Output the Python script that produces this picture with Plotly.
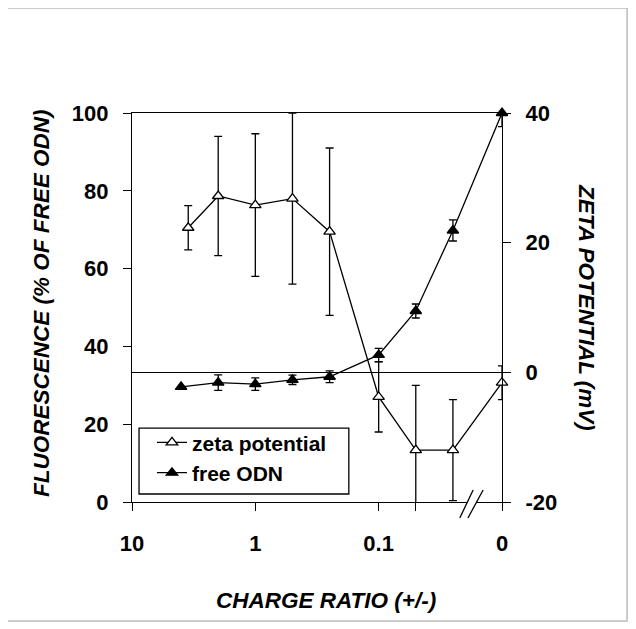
import plotly.graph_objects as go

# ---- data ----
zeta_ratio = [3.5, 2, 1, 0.5, 0.25, 0.1, 0.05, 0.025, 0]
zeta_mv = [22.3, 27.2, 25.8, 26.8, 21.7, -3.8, -12.0, -12.0, -1.6]
zeta_err = [3.4, 9.2, 11.0, 13.2, 12.9, 5.4, 10.0, 7.8, 2.6]

odn_ratio = [4, 2, 1, 0.5, 0.25, 0.1, 0.05, 0.025, 0]
odn_pct = [29.6, 30.7, 30.3, 31.4, 32.2, 37.8, 49.1, 69.8, 100]
odn_err = [0, 2.0, 1.6, 1.2, 1.5, 1.7, 1.8, 2.7, 3.5]

x_tick_vals = [10, 1, 0.1, 0.05, 0.01]
x_tick_text = ["10", "1", "0.1", "", "0"]
y_tick_vals = [0, 20, 40, 60, 80, 100]
y2_tick_vals = [-20, 0, 20, 40]
y2_tick_text = ["-20", "0", "20", "40"]
ZERO_POS = 0.01  # charge ratio 0 is drawn after the axis break


def pos(r):
    return [v if v > 0 else ZERO_POS for v in r]


FONT = "Liberation Sans"
BLACK = "#000000"

fig = go.Figure()

fig.add_trace(go.Scatter(
    x=pos(zeta_ratio), y=zeta_mv, yaxis="y2", name="zeta potential",
    mode="lines+markers", cliponaxis=False,
    line=dict(color=BLACK, width=1.3),
    marker=dict(symbol="triangle-up", size=10, color="white",
                line=dict(color=BLACK, width=1.3)),
    error_y=dict(type="data", array=zeta_err, visible=True,
                 color=BLACK, thickness=1.3, width=4),
))

fig.add_trace(go.Scatter(
    x=pos(odn_ratio), y=odn_pct, yaxis="y", name="free ODN",
    mode="lines+markers", cliponaxis=False,
    line=dict(color=BLACK, width=1.3),
    marker=dict(symbol="triangle-up", size=10, color=BLACK,
                line=dict(color=BLACK, width=1.3)),
    error_y=dict(type="data", array=odn_err, visible=True,
                 color=BLACK, thickness=1.3, width=4),
))

axis_common = dict(showgrid=False, showline=True, linecolor=BLACK, linewidth=1.3,
                   ticks="outside", ticklen=8, tickwidth=1.3, tickcolor=BLACK,
                   tickfont=dict(family=FONT, size=22, color=BLACK, weight="bold"))

fig.update_layout(
    width=628, height=621,
    paper_bgcolor="white", plot_bgcolor="white",
    margin=dict(l=124, r=134, t=105, b=127),
    showlegend=True,
    xaxis=dict(type="log", range=[1, -2], tickvals=x_tick_vals, ticktext=x_tick_text,
               mirror=True, zeroline=False, ticklabelstandoff=13, **axis_common),
    yaxis=dict(range=[0, 100], tickvals=y_tick_vals, zeroline=False,
               ticklabelstandoff=10, **axis_common),
    yaxis2=dict(range=[-20, 40], tickvals=y2_tick_vals, ticktext=y2_tick_text,
                overlaying="y", side="right",
                zeroline=True, zerolinecolor=BLACK, zerolinewidth=1.3,
                ticklabelstandoff=10, **axis_common),
    legend=dict(x=0.054, y=0.205, xanchor="left", yanchor="top",
                bgcolor="rgba(0,0,0,0)", borderwidth=0,
                font=dict(family=FONT, size=21, color=BLACK, weight="bold"),
                traceorder="normal", itemwidth=30),
)

title_font = dict(family=FONT, size=22.5, color=BLACK, weight="bold", style="italic")
fig.add_annotation(text="FLUORESCENCE (% OF FREE ODN)", xref="paper", yref="paper",
                   x=-0.243, y=0.512, xanchor="center", yanchor="middle",
                   textangle=-90, showarrow=False, font=title_font)
fig.add_annotation(text="ZETA POTENTIAL (mV)", xref="paper", yref="paper",
                   x=1.227, y=0.499, xanchor="center", yanchor="middle",
                   textangle=90, showarrow=False, font=title_font)
fig.add_annotation(text="CHARGE RATIO (+/-)", xref="paper", yref="paper",
                   x=0.524, y=-0.254, xanchor="center", yanchor="middle",
                   showarrow=False, font=title_font)

# legend box
fig.add_shape(type="rect", xref="paper", yref="paper", x0=0.019, x1=0.586,
              y0=0.0206, y1=0.190, fillcolor="white",
              line=dict(color=BLACK, width=1.3), layer="above")

# axis break marks
fig.add_shape(type="path", xref="paper", yref="paper",
              path="M 0.886 -0.041 L 0.922 0.031 L 0.949 0.031 L 0.908 -0.041 Z",
              fillcolor="white", line=dict(width=0), layer="above")
fig.add_shape(type="line", xref="paper", yref="paper", x0=0.886, y0=-0.041,
              x1=0.922, y1=0.031, line=dict(color=BLACK, width=1.3), layer="above")
fig.add_shape(type="line", xref="paper", yref="paper", x0=0.908, y0=-0.041,
              x1=0.949, y1=0.031, line=dict(color=BLACK, width=1.3), layer="above")

# outer frame
fig.add_shape(type="rect", xref="paper", yref="paper", x0=-0.338, x1=1.338,
              y0=-0.306, y1=1.270, line=dict(color="#bbbbbb", width=1.5),
              fillcolor="rgba(0,0,0,0)", layer="below")

fig.write_html("out.html")
